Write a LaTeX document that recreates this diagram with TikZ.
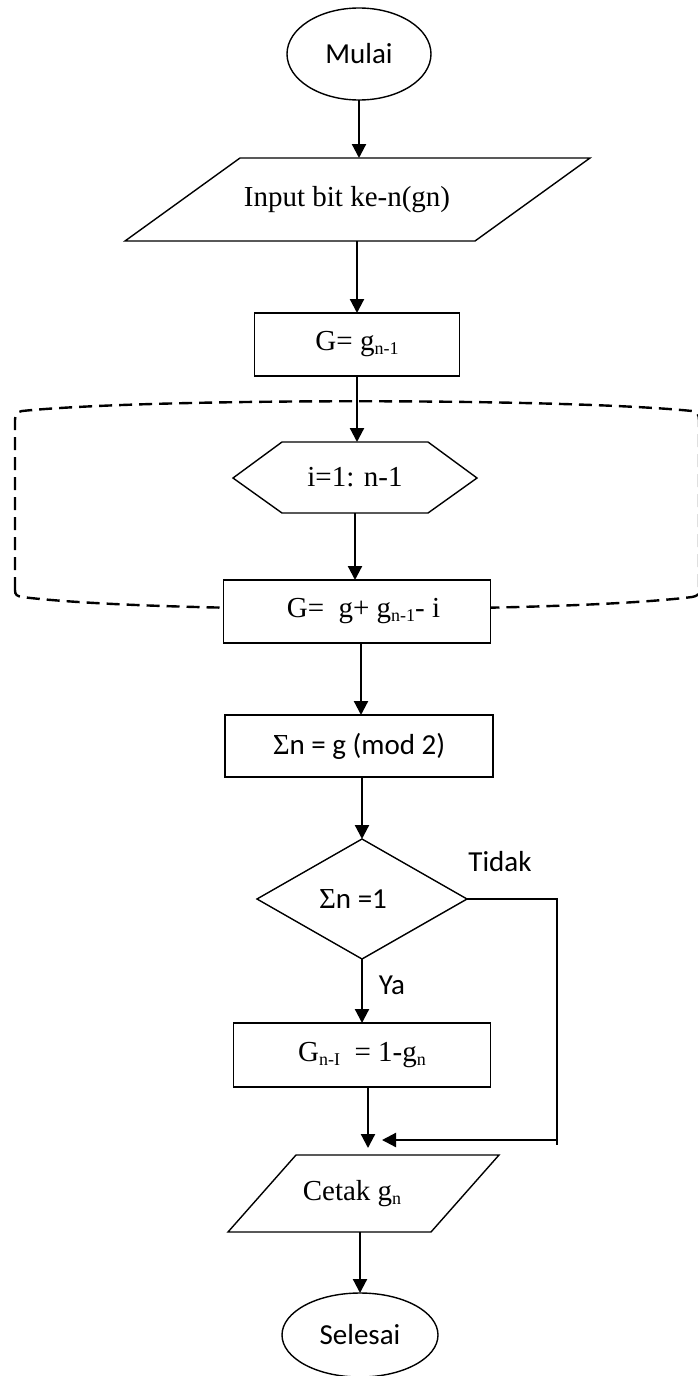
\documentclass[tikz,border=0pt]{standalone}
\usepackage{fontspec}
\setmainfont{Liberation Serif}
\newfontfamily\carl{Carlito}
\usetikzlibrary{shapes.geometric,arrows.meta}
\newcommand\sbs[1]{\raisebox{-4pt}{\fontsize{18}{18}\selectfont #1}}
\begin{document}
\begin{tikzpicture}[x=1pt,y=1pt,
  every node/.style={inner sep=0pt, outer sep=0pt},
  serif/.style={font=\fontsize{29}{33}\selectfont},
  sans/.style={font=\carl\fontsize{29}{33}\selectfont},
  box/.style={draw, line width=1.4pt, fill=white, rectangle},
  term/.style={draw, line width=1.4pt, ellipse, fill=white},
  shapeline/.style={draw, line width=1.4pt, fill=white},
  arr/.style={line width=2.2pt, -{Triangle[length=14pt,width=14pt]}},
  flow/.style={line width=1.8pt},
  band/.style={line width=2.4pt, dash pattern=on 13pt off 7pt}]
\useasboundingbox (0,0) rectangle (697,-1376);
% dashed loop band
\draw[band] (15,-590) -- (15,-420) .. controls (15,-414) and (17,-412) .. (22,-411)
  .. controls (150,-398) and (564,-398) .. (692,-411)
  .. controls (697,-412) and (699,-414) .. (699,-420) -- (699,-590)
  .. controls (699,-595) and (697,-596) .. (692,-597)
  .. controls (564,-613) and (150,-613) .. (22,-597)
  .. controls (17,-596) and (15,-595) .. (15,-590) -- cycle;
% shapes
\node[term, sans, minimum width=144, minimum height=92] (mulai) at (359,-54) {Mulai};
\draw[shapeline] (240,-158) -- (590,-158) -- (475,-241) -- (125,-241) -- cycle;
\node[serif, minimum height=83] (input) at (347,-199.5) {Input bit ke-n(gn)};
\node[box, serif, minimum width=205, minimum height=63] (g1) at (357,-344.5) {G= g\sbs{n-1}};
\draw[shapeline] (233,-478) -- (282,-442) -- (428,-442) -- (477,-478) -- (428,-513) -- (282,-513) -- cycle;
\node[serif, minimum height=71] (hex) at (355,-477.5) {i=1: n-1};
\node[box, serif, minimum width=267, minimum height=63] (g2) at (357,-611.5) {\hspace*{13pt}G=\ \ g+ g\sbs{n-1}- i};
\node[box, sans, minimum width=268, minimum height=62] (sum) at (359,-746) {{\rmfamily Σ}n = g (mod 2)};
\node[diamond, draw, line width=1.4pt, fill=white, sans, minimum width=210, minimum height=120] (dia) at (362,-899) {\hspace*{-18pt}{\rmfamily Σ}n =1};
\node[box, serif, minimum width=257, minimum height=64] (g3) at (362,-1055) {G\sbs{n-I}\ \ = 1-g\sbs{n}};
\draw[shapeline] (296,-1155) -- (499,-1155) -- (431,-1232) -- (228,-1232) -- cycle;
\node[serif, minimum height=77] (cetak) at (352,-1193.5) {Cetak g\sbs{n}};
\node[term, sans, minimum width=156, minimum height=84] (selesai) at (360,-1335) {Selesai};
% labels
\node[sans] (ya) at (392,-985) {Ya};
\node[sans] (tidak) at (500,-862) {Tidak};
% connectors
\draw[arr] (mulai.south) -- (mulai.south |- input.north);
\draw[arr] (input.south -| g1.north) -- (g1.north);
\draw[arr] (g1.south) -- (g1.south |- hex.north);
\draw[arr] (hex.south) -- (hex.south |- g2.north);
\draw[arr] ([xshift=4pt]g2.south) -- ([xshift=4pt]g2.south |- sum.north);
\draw[arr] (sum.south -| dia.north) -- (dia.north);
\draw[arr] (dia.south) -- (dia.south |- g3.north);
\coordinate (m1) at (368,-1148);
\draw[arr] (g3.south -| m1) -- (m1);
\coordinate (t1) at (557,-899);
\coordinate (t2) at (557,-1145);
\coordinate (t3) at (557,-1140);
\coordinate (m2) at (382,-1140);
\draw[flow] (dia.east) -- (t1) -- (t2);
\draw[arr] (t3) -- (m2);
\draw[arr] (cetak.south -| selesai.north) -- (selesai.north);
\end{tikzpicture}
\end{document}
